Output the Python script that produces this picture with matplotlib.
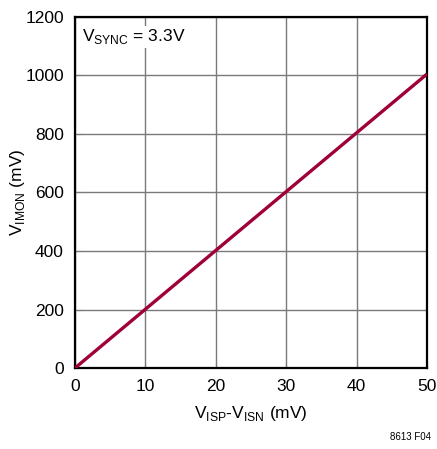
import matplotlib
matplotlib.use("Agg")
import matplotlib.pyplot as plt
from matplotlib import font_manager

names = {f.name for f in font_manager.fontManager.ttflist}
fam = ['Liberation Sans Narrow', 'DejaVu Sans'] if 'Liberation Sans Narrow' in names else ['Liberation Sans', 'DejaVu Sans']
plt.rcParams['font.family'] = fam
plt.rcParams['mathtext.fontset'] = 'custom'
plt.rcParams['mathtext.rm'] = fam[0]

x_mv = [0, 50]
y_mv = [0, 1005]
x_ticks = [0, 10, 20, 30, 40, 50]
y_ticks = [0, 200, 400, 600, 800, 1000, 1200]

fs = 12.5
fig = plt.figure(figsize=(4.37, 4.49), dpi=100)
ax = fig.add_axes([75/437, 81/449, 352/437, 351/449])
ax.plot(x_mv, y_mv, color='#a0003a', lw=2.4, solid_capstyle='butt', zorder=3)
ax.set_xlim(0, 50)
ax.set_ylim(0, 1200)
ax.set_xticks(x_ticks)
ax.set_yticks(y_ticks)
ax.grid(True, color='#7a7a7a', lw=1.0)
ax.tick_params(direction='in', length=4, labelsize=fs, color='#7a7a7a')
ax.tick_params(axis='y', pad=8)
ax.tick_params(axis='x', pad=8)
for s in ax.spines.values():
    s.set_linewidth(1.6)
    s.set_color('black')
ax.set_xlabel(r'V$_{\mathregular{ISP}}$-V$_{\mathregular{ISN}}$ (mV)', fontsize=fs, labelpad=7)
ax.set_ylabel(r'V$_{\mathregular{IMON}}$ (mV)', fontsize=fs)
ax.yaxis.set_label_coords(-0.135, 0.5)
ax.text(1.0, 1165, r'V$_{\mathregular{SYNC}}$ = 3.3V', fontsize=fs, va='top', ha='left',
        bbox=dict(facecolor='white', edgecolor='none', pad=1))
fig.text(410/437, 1 - 437/449, '8613 F04', fontsize=7, ha='center', va='center')
fig.savefig('out.png', dpi=100)
